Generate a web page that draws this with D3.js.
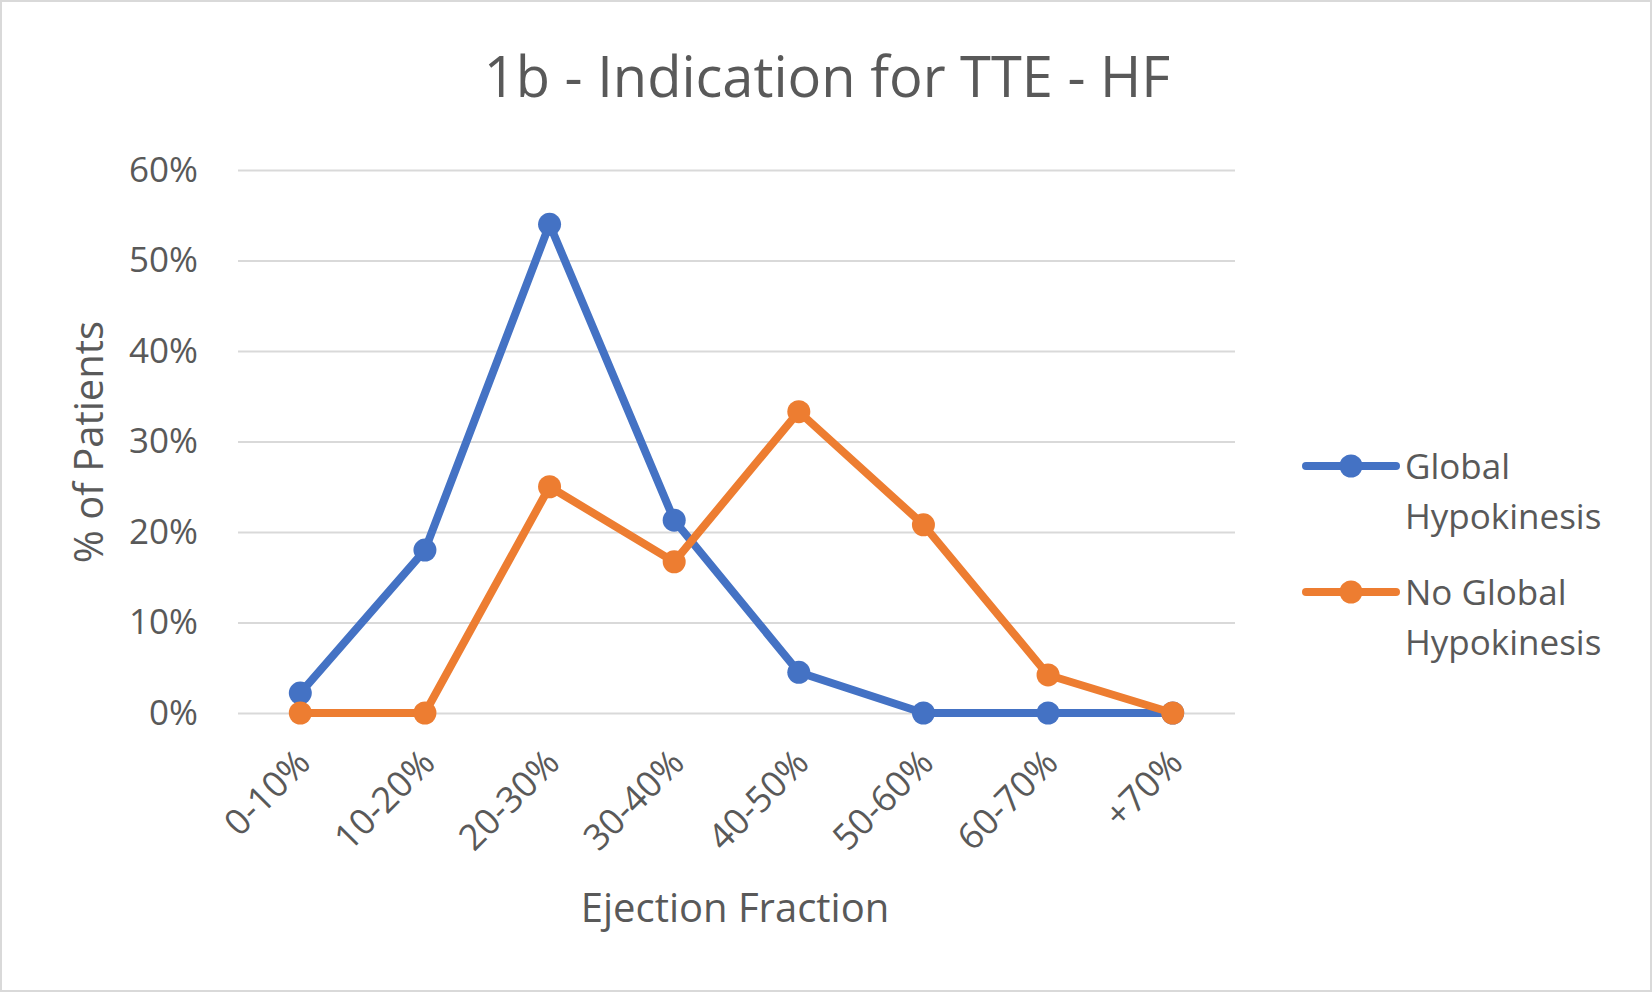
<!DOCTYPE html>
<html>
<head>
<meta charset="utf-8">
<script src="https://cdn.jsdelivr.net/npm/d3@7"></script>
<style>
  body { margin: 0; background: #fff; }
  text { font-family: "Open Sans", "Noto Sans", sans-serif; fill: #595959; }
</style>
</head>
<body>
<div id="vis"></div>
<script>
(function () {
  'use strict';

  var CATEGORIES = ['0-10%', '10-20%', '20-30%', '30-40%', '40-50%', '50-60%', '60-70%', '+70%'];
  var GLOBAL = [0.022, 0.18, 0.54, 0.213, 0.045, 0, 0, 0];
  var NO_GLOBAL = [0, 0, 0.25, 0.167, 0.333, 0.208, 0.042, 0];
  var Y_TICKS = [0, 0.1, 0.2, 0.3, 0.4, 0.5, 0.6];
  var SERIES = [
    { name: ['Global', 'Hypokinesis'], values: GLOBAL, color: '#4472C4' },
    { name: ['No Global', 'Hypokinesis'], values: NO_GLOBAL, color: '#ED7D31' }
  ];

  var WIDTH = 1652;
  var HEIGHT = 992;
  var plot = { left: 238, right: 1235, top: 170, bottom: 713 };

  var svg = d3.select('#vis').append('svg')
    .attr('width', WIDTH)
    .attr('height', HEIGHT);

  // chart area outline
  svg.append('rect')
    .attr('x', 1).attr('y', 1)
    .attr('width', WIDTH - 2).attr('height', HEIGHT - 2)
    .attr('fill', '#fff')
    .attr('stroke', '#d9d9d9')
    .attr('stroke-width', 2);

  var x = d3.scaleBand()
    .domain(CATEGORIES)
    .range([plot.left, plot.right]);
  var y = d3.scaleLinear()
    .domain([0, 0.6])
    .range([plot.bottom, plot.top]);

  // gridlines + y labels
  var yAxis = svg.append('g')
    .attr('transform', 'translate(' + plot.left + ',0)')
    .call(d3.axisLeft(y).tickValues(Y_TICKS).tickFormat(d3.format('.0%'))
      .tickSize(-(plot.right - plot.left)).tickPadding(40));
  yAxis.select('.domain').remove();
  yAxis.selectAll('line').attr('stroke', '#d9d9d9').attr('stroke-width', 2);
  yAxis.selectAll('text')
    .style('font-size', '35px')
    .style('font-family', '"Open Sans", sans-serif')
    .attr('fill', '#595959');

  // x labels, rotated 45deg
  var xAxis = svg.append('g')
    .attr('transform', 'translate(0,' + plot.bottom + ')')
    .call(d3.axisBottom(x).tickSize(0).tickPadding(0));
  xAxis.select('.domain').remove();
  xAxis.selectAll('text')
    .style('font-size', '36px')
    .style('font-family', '"Open Sans", sans-serif')
    .attr('fill', '#595959')
    .attr('text-anchor', 'end')
    .attr('dy', null)
    .attr('y', 0)
    .attr('transform', 'translate(12,52) rotate(-45)');

  var cx = function (d, i) { return x(CATEGORIES[i]) + x.bandwidth() / 2; };
  var line = d3.line()
    .x(cx)
    .y(function (d) { return y(d); });

  SERIES.forEach(function (s) {
    svg.append('path')
      .datum(s.values)
      .attr('d', line)
      .attr('fill', 'none')
      .attr('stroke', s.color)
      .attr('stroke-width', 8)
      .attr('stroke-linejoin', 'round')
      .attr('stroke-linecap', 'round');
    svg.selectAll(null)
      .data(s.values)
      .enter().append('circle')
      .attr('cx', cx)
      .attr('cy', function (d) { return y(d); })
      .attr('r', 11.5)
      .attr('fill', s.color);
  });

  // title
  svg.append('text')
    .attr('x', 827).attr('y', 97)
    .attr('text-anchor', 'middle')
    .style('font-size', '56px')
    .text('1b - Indication for TTE - HF');

  // axis titles
  svg.append('text')
    .attr('x', 735).attr('y', 922)
    .attr('text-anchor', 'middle')
    .style('font-size', '40px')
    .text('Ejection Fraction');
  svg.append('text')
    .attr('transform', 'translate(103,442) rotate(-90)')
    .attr('text-anchor', 'middle')
    .style('font-size', '40px')
    .text('% of Patients');

  // legend
  var legend = svg.append('g').attr('transform', 'translate(1306,466)');
  SERIES.forEach(function (s, i) {
    var g = legend.append('g').attr('transform', 'translate(0,' + (i * 126) + ')');
    g.append('line')
      .attr('x1', 0).attr('x2', 90)
      .attr('stroke', s.color)
      .attr('stroke-width', 8)
      .attr('stroke-linecap', 'round');
    g.append('circle').attr('cx', 45).attr('r', 11.5).attr('fill', s.color);
    s.name.forEach(function (t, j) {
      g.append('text')
        .attr('x', 99).attr('y', 13 + j * 50)
        .style('font-size', '35px')
        .text(t);
    });
  });
})();
</script>
</body>
</html>
